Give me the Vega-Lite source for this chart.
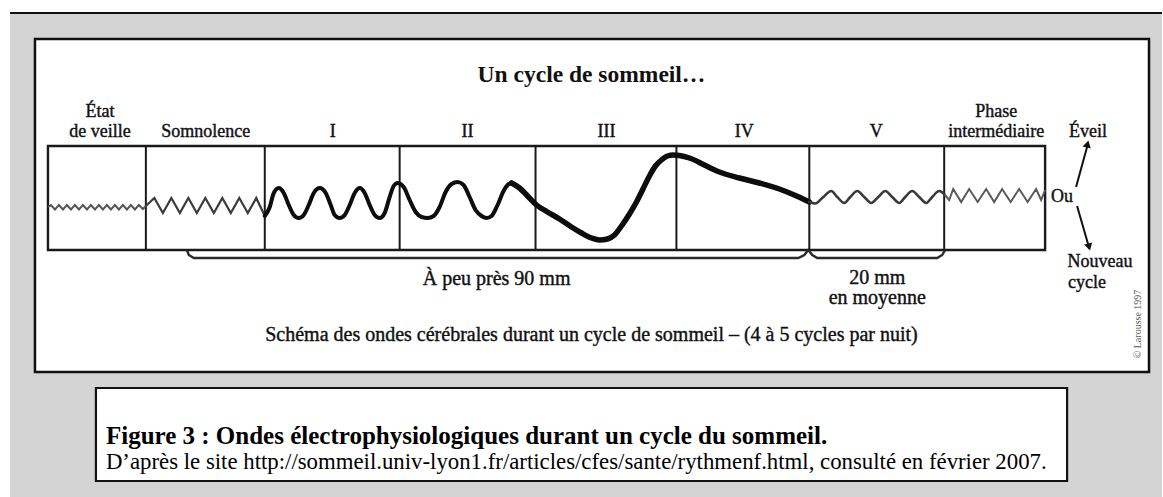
{
  "$schema": "https://vega.github.io/schema/vega-lite/v6.json",
  "width": 1163,
  "height": 497,
  "autosize": {"type": "fit", "contains": "padding"},
  "padding": 0,
  "background": "white",
  "config": {"view": {"stroke": null}, "text": {"font": "Liberation Serif"}},
  "datasets": {
    "rects": [
      {"id": "bg", "x": 10, "x2": 1163, "y": 13, "y2": 497},
      {"id": "panel", "x": 35, "x2": 1150, "y": 39, "y2": 372},
      {"id": "cap", "x": 96, "x2": 1068, "y": 388, "y2": 481},
      {"id": "box", "x": 48, "x2": 1046, "y": 146, "y2": 250}
    ],
    "hlines": [
      {"id": "top", "x": 10, "x2": 1163, "y": 13}
    ],
    "dividers": [
      {"x": 146, "y": 146, "y2": 250},
      {"x": 265, "y": 146, "y2": 250},
      {"x": 400, "y": 146, "y2": 250},
      {"x": 536, "y": 146, "y2": 250},
      {"x": 677, "y": 146, "y2": 250},
      {"x": 810, "y": 146, "y2": 250},
      {"x": 945, "y": 146, "y2": 250}
    ],
    "arrows": [
      {"id": "up", "x": 1077, "y": 187, "x2": 1088, "y2": 147},
      {"id": "down", "x": 1078, "y": 206, "x2": 1089, "y2": 244}
    ],
    "heads": [
      {"id": "up", "x": 1088.5, "y": 144},
      {"id": "down", "x": 1090, "y": 247}
    ],
    "wave": [
      {"s": "veille", "x": 48, "y": 207},
      {"s": "veille", "x": 51, "y": 205},
      {"s": "veille", "x": 55, "y": 209.5},
      {"s": "veille", "x": 59, "y": 205},
      {"s": "veille", "x": 63, "y": 209.5},
      {"s": "veille", "x": 67, "y": 205},
      {"s": "veille", "x": 71, "y": 209.5},
      {"s": "veille", "x": 75, "y": 205},
      {"s": "veille", "x": 79, "y": 209.5},
      {"s": "veille", "x": 83, "y": 205},
      {"s": "veille", "x": 87, "y": 209.5},
      {"s": "veille", "x": 91, "y": 205},
      {"s": "veille", "x": 95, "y": 209.5},
      {"s": "veille", "x": 99, "y": 205},
      {"s": "veille", "x": 103, "y": 209.5},
      {"s": "veille", "x": 107, "y": 205},
      {"s": "veille", "x": 111, "y": 209.5},
      {"s": "veille", "x": 115, "y": 205},
      {"s": "veille", "x": 119, "y": 209.5},
      {"s": "veille", "x": 123, "y": 205},
      {"s": "veille", "x": 127, "y": 209.5},
      {"s": "veille", "x": 131, "y": 205},
      {"s": "veille", "x": 135, "y": 209.5},
      {"s": "veille", "x": 139, "y": 205},
      {"s": "veille", "x": 143, "y": 209},
      {"s": "veille", "x": 146, "y": 206},
      {"s": "somno", "x": 146, "y": 206},
      {"s": "somno", "x": 154.5, "y": 198},
      {"s": "somno", "x": 163, "y": 213},
      {"s": "somno", "x": 171.5, "y": 198},
      {"s": "somno", "x": 180, "y": 213},
      {"s": "somno", "x": 188.5, "y": 198},
      {"s": "somno", "x": 197, "y": 213},
      {"s": "somno", "x": 205.5, "y": 198},
      {"s": "somno", "x": 214, "y": 213},
      {"s": "somno", "x": 222.5, "y": 198},
      {"s": "somno", "x": 231, "y": 213},
      {"s": "somno", "x": 239.5, "y": 198},
      {"s": "somno", "x": 248, "y": 213},
      {"s": "somno", "x": 256.5, "y": 198},
      {"s": "somno", "x": 265, "y": 216},
      {"s": "s12", "x": 265, "y": 216},
      {"s": "s12", "x": 270, "y": 207},
      {"s": "s12", "x": 274, "y": 193},
      {"s": "s12", "x": 279, "y": 188},
      {"s": "s12", "x": 284, "y": 193},
      {"s": "s12", "x": 289, "y": 205},
      {"s": "s12", "x": 294, "y": 215},
      {"s": "s12", "x": 299, "y": 218},
      {"s": "s12", "x": 304, "y": 215},
      {"s": "s12", "x": 309, "y": 205},
      {"s": "s12", "x": 314, "y": 193},
      {"s": "s12", "x": 320, "y": 188},
      {"s": "s12", "x": 326, "y": 193},
      {"s": "s12", "x": 331, "y": 205},
      {"s": "s12", "x": 335, "y": 215},
      {"s": "s12", "x": 340, "y": 218},
      {"s": "s12", "x": 345, "y": 215},
      {"s": "s12", "x": 350, "y": 205},
      {"s": "s12", "x": 355, "y": 193},
      {"s": "s12", "x": 360, "y": 188},
      {"s": "s12", "x": 365, "y": 193},
      {"s": "s12", "x": 370, "y": 205},
      {"s": "s12", "x": 375, "y": 215},
      {"s": "s12", "x": 380, "y": 218},
      {"s": "s12", "x": 385, "y": 213},
      {"s": "s12", "x": 390, "y": 197},
      {"s": "s12", "x": 394, "y": 186},
      {"s": "s12", "x": 398, "y": 183},
      {"s": "s12", "x": 404, "y": 187},
      {"s": "s12", "x": 410, "y": 200},
      {"s": "s12", "x": 416, "y": 212},
      {"s": "s12", "x": 422, "y": 217},
      {"s": "s12", "x": 428, "y": 218},
      {"s": "s12", "x": 434, "y": 216},
      {"s": "s12", "x": 440, "y": 207},
      {"s": "s12", "x": 446, "y": 192},
      {"s": "s12", "x": 452, "y": 184},
      {"s": "s12", "x": 458, "y": 182},
      {"s": "s12", "x": 464, "y": 185},
      {"s": "s12", "x": 470, "y": 197},
      {"s": "s12", "x": 476, "y": 210},
      {"s": "s12", "x": 482, "y": 216},
      {"s": "s12", "x": 487, "y": 218},
      {"s": "s12", "x": 492, "y": 216},
      {"s": "s12", "x": 498, "y": 205},
      {"s": "s12", "x": 504, "y": 191},
      {"s": "s12", "x": 508, "y": 185},
      {"s": "s12", "x": 512, "y": 183},
      {"s": "s34", "x": 512, "y": 183},
      {"s": "s34", "x": 520, "y": 188},
      {"s": "s34", "x": 528, "y": 196},
      {"s": "s34", "x": 537, "y": 205},
      {"s": "s34", "x": 548, "y": 212},
      {"s": "s34", "x": 560, "y": 219},
      {"s": "s34", "x": 572, "y": 227},
      {"s": "s34", "x": 582, "y": 233},
      {"s": "s34", "x": 592, "y": 238},
      {"s": "s34", "x": 600, "y": 240},
      {"s": "s34", "x": 608, "y": 239},
      {"s": "s34", "x": 615, "y": 235},
      {"s": "s34", "x": 622, "y": 226},
      {"s": "s34", "x": 630, "y": 214},
      {"s": "s34", "x": 637, "y": 202},
      {"s": "s34", "x": 644, "y": 188},
      {"s": "s34", "x": 650, "y": 176},
      {"s": "s34", "x": 656, "y": 166},
      {"s": "s34", "x": 662, "y": 160},
      {"s": "s34", "x": 668, "y": 156},
      {"s": "s34", "x": 674, "y": 155},
      {"s": "s34", "x": 680, "y": 155.5},
      {"s": "s34", "x": 690, "y": 158},
      {"s": "s34", "x": 705, "y": 165},
      {"s": "s34", "x": 720, "y": 172},
      {"s": "s34", "x": 740, "y": 178},
      {"s": "s34", "x": 760, "y": 183},
      {"s": "s34", "x": 780, "y": 189},
      {"s": "s34", "x": 795, "y": 195},
      {"s": "s34", "x": 810, "y": 202},
      {"s": "v", "x": 810, "y": 202},
      {"s": "v", "x": 816, "y": 203.5},
      {"s": "v", "x": 824, "y": 197},
      {"s": "v", "x": 832, "y": 191},
      {"s": "v", "x": 838, "y": 197},
      {"s": "v", "x": 845, "y": 203},
      {"s": "v", "x": 851, "y": 197},
      {"s": "v", "x": 858, "y": 191},
      {"s": "v", "x": 865, "y": 197},
      {"s": "v", "x": 872, "y": 203},
      {"s": "v", "x": 879, "y": 197},
      {"s": "v", "x": 886, "y": 191},
      {"s": "v", "x": 893, "y": 197},
      {"s": "v", "x": 900, "y": 203},
      {"s": "v", "x": 906, "y": 197},
      {"s": "v", "x": 913, "y": 191},
      {"s": "v", "x": 920, "y": 197},
      {"s": "v", "x": 927, "y": 203},
      {"s": "v", "x": 933, "y": 197},
      {"s": "v", "x": 940, "y": 191},
      {"s": "v", "x": 945, "y": 194},
      {"s": "phase", "x": 945, "y": 194},
      {"s": "phase", "x": 950, "y": 200},
      {"s": "phase", "x": 954, "y": 189},
      {"s": "phase", "x": 962, "y": 202},
      {"s": "phase", "x": 970, "y": 189},
      {"s": "phase", "x": 978.5, "y": 202},
      {"s": "phase", "x": 987, "y": 189},
      {"s": "phase", "x": 995, "y": 202},
      {"s": "phase", "x": 1003, "y": 189},
      {"s": "phase", "x": 1011.5, "y": 202},
      {"s": "phase", "x": 1020, "y": 189},
      {"s": "phase", "x": 1028.5, "y": 202},
      {"s": "phase", "x": 1037, "y": 189},
      {"s": "phase", "x": 1042, "y": 200},
      {"s": "phase", "x": 1046, "y": 190},
      {"s": "b", "x": 187, "y": 250},
      {"s": "b", "x": 189, "y": 255},
      {"s": "b", "x": 194, "y": 258},
      {"s": "b", "x": 799, "y": 258},
      {"s": "b", "x": 805, "y": 255},
      {"s": "b", "x": 809, "y": 250},
      {"s": "b", "x": 813, "y": 255},
      {"s": "b", "x": 818, "y": 258},
      {"s": "b", "x": 938, "y": 258},
      {"s": "b", "x": 943, "y": 255},
      {"s": "b", "x": 946, "y": 250}
    ],
    "labels": [
      {"c": "title", "t": "Un cycle de sommeil…", "x": 592, "y": 75},
      {"c": "hdr", "t": "État", "x": 100, "y": 112},
      {"c": "hdr", "t": "de veille", "x": 100, "y": 132},
      {"c": "hdr", "t": "Somnolence", "x": 206, "y": 132},
      {"c": "hdr", "t": "I", "x": 333, "y": 132},
      {"c": "hdr", "t": "II", "x": 468, "y": 132},
      {"c": "hdr", "t": "III", "x": 607, "y": 132},
      {"c": "hdr", "t": "IV", "x": 745, "y": 132},
      {"c": "hdr", "t": "V", "x": 877, "y": 132},
      {"c": "hdr", "t": "Phase", "x": 997, "y": 112},
      {"c": "hdr", "t": "intermédiaire", "x": 997, "y": 132},
      {"c": "hdr", "t": "Éveil", "x": 1089, "y": 132},
      {"c": "hdr", "t": "Ou", "x": 1063, "y": 197},
      {"c": "hdr", "t": "Nouveau", "x": 1101, "y": 262},
      {"c": "hdr", "t": "cycle", "x": 1088, "y": 283},
      {"c": "low", "t": "À peu près 90 mm", "x": 497, "y": 279},
      {"c": "low", "t": "20 mm", "x": 878, "y": 278},
      {"c": "low", "t": "en moyenne", "x": 878, "y": 298},
      {"c": "low", "t": "Schéma des ondes cérébrales durant un cycle de sommeil – (4 à 5 cycles par nuit)", "x": 592, "y": 335},
      {"c": "capb", "t": "Figure 3 : Ondes électrophysiologiques durant un cycle du sommeil.", "x": 106, "y": 436},
      {"c": "capr", "t": "D’après le site http://sommeil.univ-lyon1.fr/articles/cfes/sante/rythmenf.html, consulté en février 2007.", "x": 106, "y": 462},
      {"c": "copy", "t": "© Larousse 1997", "x": 1139, "y": 324}
    ]
  },
  "encoding": {
    "x": {"field": "x", "type": "quantitative", "scale": {"domain": [0, 1163], "nice": false, "zero": false}, "axis": null},
    "y": {"field": "y", "type": "quantitative", "scale": {"domain": [0, 497], "nice": false, "zero": false, "reverse": true}, "axis": null}
  },
  "layer": [
    {
      "data": {"name": "rects"},
      "transform": [{"filter": "datum.id == 'bg'"}],
      "mark": {"type": "rect", "fill": "#d4d4d4"},
      "encoding": {"x2": {"field": "x2"}, "y2": {"field": "y2"}}
    },
    {
      "data": {"name": "hlines"},
      "mark": {"type": "rule", "stroke": "#111", "strokeWidth": 2},
      "encoding": {"x2": {"field": "x2"}}
    },
    {
      "data": {"name": "rects"},
      "transform": [{"filter": "datum.id == 'panel'"}],
      "mark": {"type": "rect", "fill": "white", "stroke": "#111", "strokeWidth": 2.5},
      "encoding": {"x2": {"field": "x2"}, "y2": {"field": "y2"}}
    },
    {
      "data": {"name": "rects"},
      "transform": [{"filter": "datum.id == 'cap'"}],
      "mark": {"type": "rect", "fill": "white", "stroke": "#111", "strokeWidth": 2.2},
      "encoding": {"x2": {"field": "x2"}, "y2": {"field": "y2"}}
    },
    {
      "data": {"name": "rects"},
      "transform": [{"filter": "datum.id == 'box'"}],
      "mark": {"type": "rect", "fill": null, "fillOpacity": 0, "stroke": "#1a1a1a", "strokeWidth": 2.4},
      "encoding": {"x2": {"field": "x2"}, "y2": {"field": "y2"}}
    },
    {
      "data": {"name": "dividers"},
      "mark": {"type": "rule", "stroke": "#1a1a1a", "strokeWidth": 2},
      "encoding": {"y2": {"field": "y2"}}
    },
    {
      "data": {"name": "wave"},
      "transform": [{"filter": "datum.s == 'veille'"}],
      "mark": {"type": "line", "interpolate": "linear", "stroke": "#555555", "strokeWidth": 2}
    },
    {
      "data": {"name": "wave"},
      "transform": [{"filter": "datum.s == 'somno'"}],
      "mark": {"type": "line", "interpolate": "linear", "stroke": "#3c3c3c", "strokeWidth": 2.2}
    },
    {
      "data": {"name": "wave"},
      "transform": [{"filter": "datum.s == 'phase'"}],
      "mark": {"type": "line", "interpolate": "linear", "stroke": "#5a5a5a", "strokeWidth": 2}
    },
    {
      "data": {"name": "wave"},
      "transform": [{"filter": "datum.s == 'b'"}],
      "mark": {"type": "line", "interpolate": "linear", "stroke": "#2a2a2a", "strokeWidth": 2.4}
    },
    {
      "data": {"name": "wave"},
      "transform": [{"filter": "datum.s == 's12'"}],
      "mark": {"type": "line", "interpolate": "monotone", "stroke": "#0d0d0d", "strokeWidth": 4, "strokeCap": "round", "strokeJoin": "round"}
    },
    {
      "data": {"name": "wave"},
      "transform": [{"filter": "datum.s == 's34'"}],
      "mark": {"type": "line", "interpolate": "monotone", "stroke": "#0d0d0d", "strokeWidth": 5.5, "strokeCap": "round", "strokeJoin": "round"}
    },
    {
      "data": {"name": "wave"},
      "transform": [{"filter": "datum.s == 'v'"}],
      "mark": {"type": "line", "interpolate": "monotone", "stroke": "#3a3a3a", "strokeWidth": 2.6, "strokeCap": "round", "strokeJoin": "round"}
    },
    {
      "data": {"name": "arrows"},
      "mark": {"type": "rule", "stroke": "#111", "strokeWidth": 2},
      "encoding": {"x2": {"field": "x2"}, "y2": {"field": "y2"}}
    },
    {
      "data": {"name": "heads"},
      "transform": [{"filter": "datum.id == 'up'"}],
      "mark": {"type": "point", "shape": "triangle-up", "filled": true, "color": "#111", "opacity": 1, "size": 70, "angle": 14}
    },
    {
      "data": {"name": "heads"},
      "transform": [{"filter": "datum.id == 'down'"}],
      "mark": {"type": "point", "shape": "triangle-down", "filled": true, "color": "#111", "opacity": 1, "size": 70, "angle": -15}
    },
    {
      "data": {"name": "labels"},
      "transform": [{"filter": "datum.c == 'title'"}],
      "mark": {"type": "text", "fontSize": 23.5, "fontWeight": "bold", "color": "#111", "align": "center", "baseline": "middle"},
      "encoding": {"text": {"field": "t"}}
    },
    {
      "data": {"name": "labels"},
      "transform": [{"filter": "datum.c == 'hdr'"}],
      "mark": {"type": "text", "fontSize": 18, "color": "#111", "stroke": "#111", "strokeWidth": 0.4, "align": "center", "baseline": "middle"},
      "encoding": {"text": {"field": "t"}}
    },
    {
      "data": {"name": "labels"},
      "transform": [{"filter": "datum.c == 'low'"}],
      "mark": {"type": "text", "fontSize": 20, "color": "#111", "stroke": "#111", "strokeWidth": 0.4, "align": "center", "baseline": "middle"},
      "encoding": {"text": {"field": "t"}}
    },
    {
      "data": {"name": "labels"},
      "transform": [{"filter": "datum.c == 'capb'"}],
      "mark": {"type": "text", "fontSize": 25, "fontWeight": "bold", "color": "#000", "align": "left", "baseline": "middle"},
      "encoding": {"text": {"field": "t"}}
    },
    {
      "data": {"name": "labels"},
      "transform": [{"filter": "datum.c == 'capr'"}],
      "mark": {"type": "text", "fontSize": 22.8, "color": "#000", "align": "left", "baseline": "middle"},
      "encoding": {"text": {"field": "t"}}
    },
    {
      "data": {"name": "labels"},
      "transform": [{"filter": "datum.c == 'copy'"}],
      "mark": {"type": "text", "fontSize": 10, "color": "#555", "align": "center", "baseline": "middle", "angle": 270},
      "encoding": {"text": {"field": "t"}}
    }
  ]
}
